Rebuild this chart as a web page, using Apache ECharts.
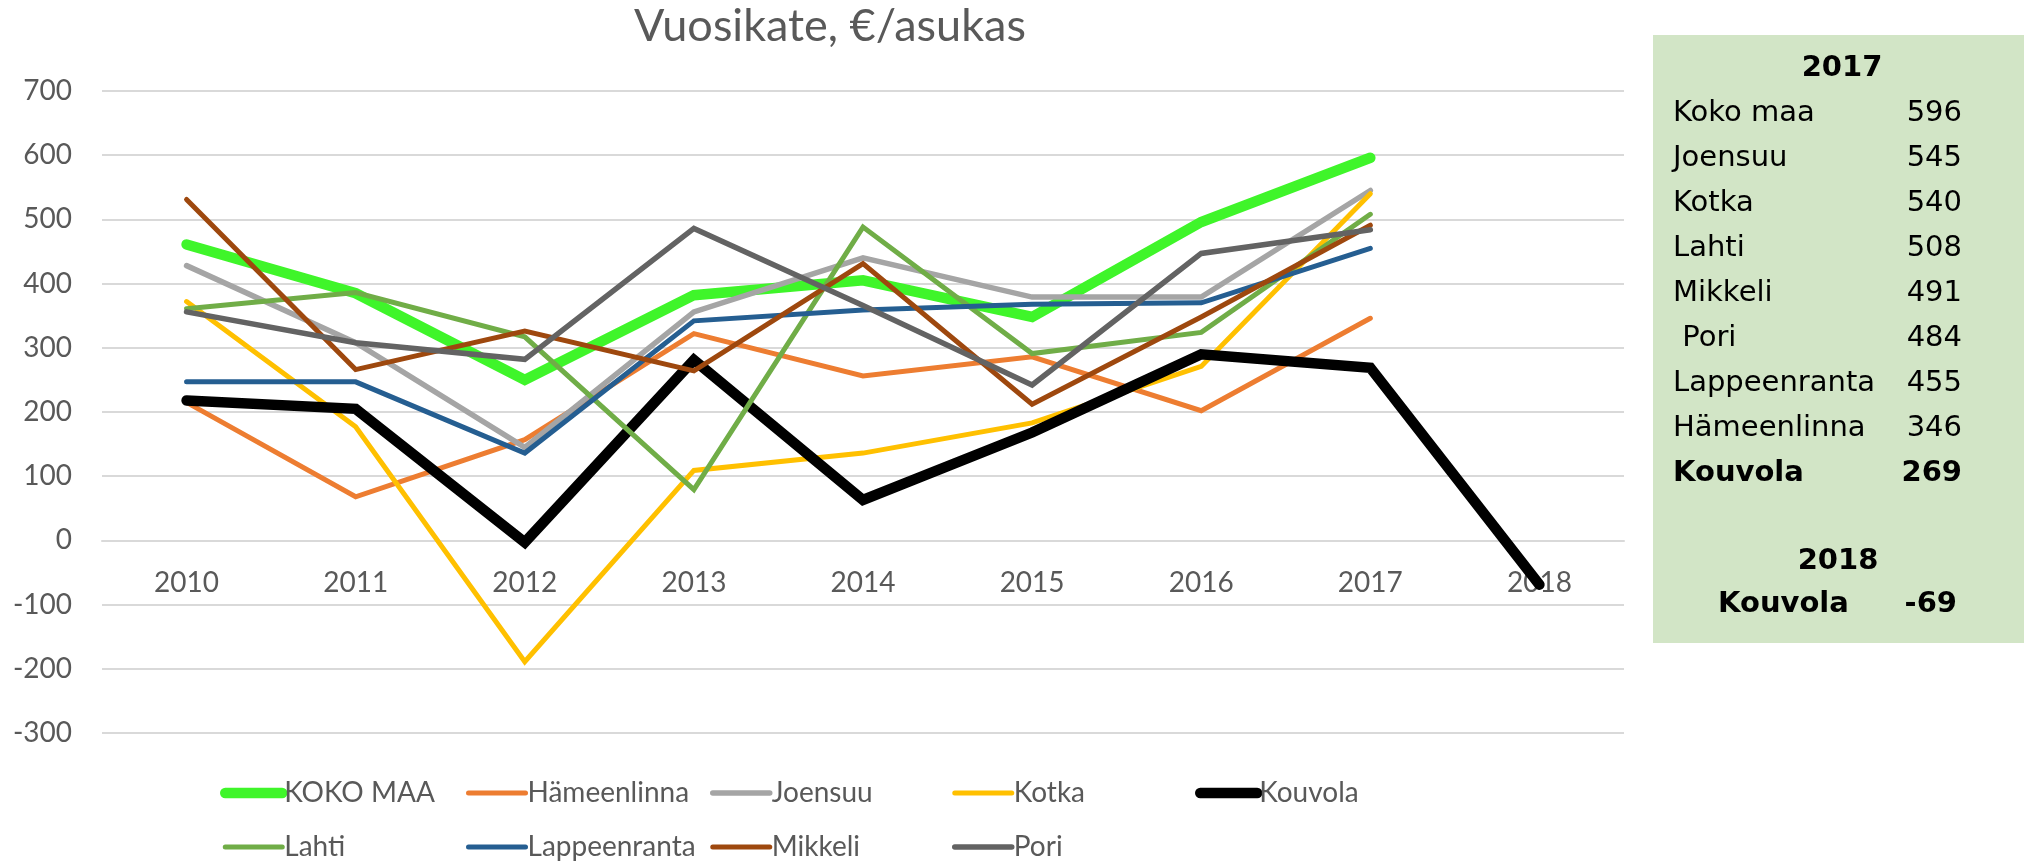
<!DOCTYPE html>
<html>
<head>
<meta charset="utf-8">
<script src="https://cdn.jsdelivr.net/npm/echarts@6/dist/echarts.min.js"></script>
<style>
html, body { margin: 0; padding: 0; background: #fff; }
#main { width: 2028px; height: 862px; }
</style>
</head>
<body>
<div id="main"></div>
<script>
var years = ['2010', '2011', '2012', '2013', '2014', '2015', '2016', '2017', '2018'];
var kokoMaa      = [461, 385, 250, 382, 405, 348, 496, 596, null];
var hameenlinna  = [215, 68, 157, 322, 256, 286, 202, 346, null];
var joensuu      = [428, 308, 145, 356, 440, 379, 379, 545, null];
var kotka        = [372, 177, -189, 109, 136, 183, 271, 540, null];
var kouvola      = [218, 205, -3, 281, 63, 168, 290, 269, -69];
var lahti        = [361, 386, 317, 79, 488, 291, 324, 508, null];
var lappeenranta = [247, 247, 136, 342, 359, 368, 370, 455, null];
var mikkeli      = [531, 266, 326, 264, 431, 212, 348, 491, null];
var pori         = [356, 308, 282, 486, 366, 242, 447, 484, null];

var yMin = -300, yMax = 700, yStep = 100;

// taulukko oikealla
var boxTitle1 = '2017';
var boxNames = ['Koko maa', 'Joensuu', 'Kotka', 'Lahti', 'Mikkeli', ' Pori', 'Lappeenranta', 'Hämeenlinna', 'Kouvola'];
var boxValues = ['596', '545', '540', '508', '491', '484', '455', '346', '269'];
var boxTitle2 = '2018';
var box2Name = 'Kouvola';
var box2Value = '-69';

var myChart = echarts.init(document.getElementById('main'));

var font = 'Lato';
var txtColor = '#595959';

function line(name, data, color, width) {
	return {
		name: name,
		type: 'line',
		data: data,
		symbol: 'none',
		connectNulls: false,
		lineStyle: { color: color, width: width, cap: 'round', join: 'miter' },
		itemStyle: { color: color }
	};
}

var seriesData = [
	line('KOKO MAA', kokoMaa, '#3ff52a', 10.5),
	line('Hämeenlinna', hameenlinna, '#ed7d31', 5),
	line('Joensuu', joensuu, '#a5a5a5', 5.5),
	line('Kotka', kotka, '#ffc000', 5),
	line('Kouvola', kouvola, '#000000', 10.5),
	line('Lahti', lahti, '#70ad47', 5),
	line('Lappeenranta', lappeenranta, '#255e91', 5),
	line('Mikkeli', mikkeli, '#9e480e', 5),
	line('Pori', pori, '#636363', 5.5)
];

// legend sarakkeittain, jotta rivit asettuvat kuten Excelissä
var legendCols = [
	[['KOKO MAA', 'Lahti'], 220],
	[['Hämeenlinna', 'Lappeenranta'], 466],
	[['Joensuu', 'Mikkeli'], 710],
	[['Kotka', 'Pori'], 952],
	[['Kouvola'], 1195]
];
var legends = legendCols.map(function (c) {
	return {
		orient: 'vertical',
		left: c[1],
		top: 778,
		padding: 0,
		itemGap: 24,
		itemWidth: 57,
		itemHeight: 14,
		data: c[0],
		lineStyle: { width: 'inherit', cap: 'round' },
		itemStyle: { opacity: 0 },
		textStyle: { color: txtColor, fontFamily: font, fontSize: 28, lineHeight: 30, padding: [0, 0, 0, -3] }
	};
});

// taulukon tekstit
var graphics = [{
	type: 'rect',
	shape: { x: 1653, y: 35, width: 371, height: 608 },
	style: { fill: '#d2e5c6' }
}];
function boxText(t, x, y, align, bold) {
	graphics.push({
		type: 'text',
		style: {
			text: t, x: x, y: y,
			align: align, textAlign: align,
			verticalAlign: 'middle', textVerticalAlign: 'middle',
			fontFamily: 'DejaVu Sans', fontSize: 29,
			fontWeight: bold ? 'bold' : 'normal',
			fill: '#000'
		}
	});
}
boxText(boxTitle1, 1842, 68, 'center', true);
for (var i = 0; i < boxNames.length; i++) {
	var last = i == boxNames.length - 1;
	boxText(boxNames[i], 1673, 113 + i * 45, 'left', last);
	boxText(boxValues[i], 1962, 113 + i * 45, 'right', last);
}
boxText(boxTitle2, 1838, 561, 'center', true);
boxText(box2Name, 1718, 604, 'left', true);
boxText(box2Value, 1957, 604, 'right', true);

var option = {
	animation: false,
	backgroundColor: '#fff',
	title: {
		text: 'Vuosikate, €/asukas',
		left: 825,
		top: -1,
		textAlign: 'center',
		textStyle: { color: txtColor, fontFamily: font, fontSize: 45, fontWeight: 'normal' }
	},
	legend: legends,
	grid: { left: 102, right: 404, top: 91, bottom: 129 },
	xAxis: {
		type: 'category',
		data: years,
		axisLine: { onZero: false, lineStyle: { color: '#d9d9d9', width: 2 } },
		axisTick: { show: false },
		axisLabel: { color: txtColor, fontFamily: font, fontSize: 28, margin: 29 }
	},
	yAxis: {
		type: 'value',
		min: yMin,
		max: yMax,
		interval: yStep,
		axisLine: { show: false },
		axisTick: { show: false },
		axisLabel: { color: txtColor, fontFamily: font, fontSize: 28, margin: 30 },
		splitLine: { lineStyle: { color: '#d9d9d9', width: 2 } }
	},
	graphic: graphics,
	series: seriesData
};

myChart.setOption(option);

// x-akselin nimiöt nollan kohdalle (kuten Excelissä)
var zeroY = myChart.convertToPixel({ yAxisIndex: 0 }, 0);
var bottomY = myChart.convertToPixel({ yAxisIndex: 0 }, yMin);
myChart.setOption({ xAxis: { offset: zeroY - bottomY } });
</script>
</body>
</html>
